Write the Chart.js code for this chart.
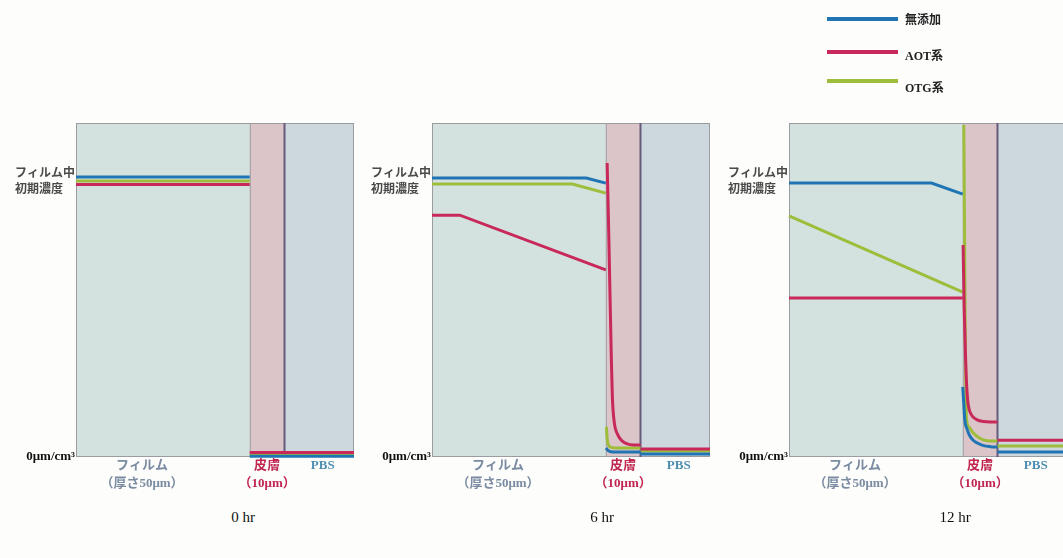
<!DOCTYPE html>
<html>
<head>
<meta charset="utf-8">
<script src="https://cdn.jsdelivr.net/npm/chart.js@4.4.1/dist/chart.umd.min.js"></script>
<style>
  html, body { margin: 0; padding: 0; background: #fdfdfb; width: 1063px; height: 558px; overflow: hidden; position: relative; }
  canvas { position: absolute; top: 0; }
  .hr { position: absolute; top: 509px; font: 15px "Liberation Serif", serif; color: #111; transform: translateX(-50%); white-space: nowrap; }
  .lg-line { position: absolute; left: 827px; width: 71px; height: 4px; }
  .lg-text { position: absolute; left: 905px; font: bold 12px "Liberation Serif", "Noto Sans CJK JP", serif; color: #222; }
</style>
</head>
<body>
<canvas id="hr0" width="358" height="500" style="left:0px"></canvas>
<canvas id="hr6" width="358" height="500" style="left:356px"></canvas>
<canvas id="hr12" width="358" height="500" style="left:713px"></canvas>

<div class="hr" style="left:243px">0 hr</div>
<div class="hr" style="left:602px">6 hr</div>
<div class="hr" style="left:955px">12 hr</div>

<div class="lg-line" style="top:17px;background:#1f74b4"></div>
<div class="lg-text" style="top:10px">無添加</div>
<div class="lg-line" style="top:50px;background:#c8285a"></div>
<div class="lg-text" style="top:46px">AOT系</div>
<div class="lg-line" style="top:79px;background:#9dbd3b"></div>
<div class="lg-text" style="top:78px">OTG系</div>

<script>
// x: 0-50 film, 50-60 skin, 60-80 PBS ; y: relative concentration
const seriesNames = ["無添加", "AOT系", "OTG系"];
const seriesColors = ["#1f74b4", "#c8285a", "#9dbd3b"];

// 0 hr
const blue0 = [[0, 83.8], [50, 83.8], [50, null], [50, 0.2], [80, 0.2]];
const red0 = [[0, 81.6], [50, 81.6], [50, null], [50, 1.35], [80, 1.35]];
const green0 = [[0, 82.6], [50, 82.6], [50, null], [50, 0.75], [80, 0.75]];

// 6 hr
const blue6 = [[0, 83.5], [44.4, 83.5], [50, 82], [50, null],
  [50.1, 2.7], [50.6, 2.0], [51.5, 1.6], [53, 1.5], [60, 1.5], [60, null], [60, 0.9], [80, 0.9]];
const red6 = [[0, 72.4], [8, 72.4], [50, 56], [50, null],
  [50.4, 88], [50.8, 70], [51.2, 50], [51.6, 30], [51.9, 18], [52.5, 10], [53.3, 7], [54.5, 5],
  [56, 4], [58, 3.6], [60, 3.6], [60, null], [60, 2.4], [80, 2.4]];
const green6 = [[0, 81.7], [40.4, 81.7], [50, 79], [50, null],
  [50.2, 9], [50.4, 5.5], [50.8, 3.6], [51.6, 2.9], [53, 2.7], [60, 2.7], [60, null], [60, 1.8], [80, 1.8]];

// 12 hr
const blue12 = [[0, 82], [41, 82], [50, 78.7], [50, null],
  [50, 21], [50.3, 16], [50.6, 11], [51.2, 8.5], [51.9, 6.6], [53, 5], [54.2, 4.2], [56, 3.4],
  [58, 3.1], [60, 3.0], [60, null], [60, 1.5], [80, 1.5]];
const red12 = [[0, 47.6], [50, 47.6], [50, null],
  [50.1, 63.5], [50.4, 45], [50.8, 30], [51.2, 20], [51.6, 15.5], [52.5, 12.6], [54, 11.2],
  [56, 10.6], [58, 10.5], [60, 10.5], [60, null], [60, 5.0], [80, 5.0]];
const green12 = [[0, 72.2], [50, 49.4], [50, null],
  [50.3, 99.4], [50.5, 70], [50.7, 40], [50.9, 20], [51.1, 11], [51.8, 9], [52.8, 7.5], [54.8, 5.7],
  [57, 4.9], [60, 4.8], [60, null], [60, 3.3], [80, 3.3]];

const regionEdges = [0, 50, 60, 80];
const regionColors = ["#d4e2df", "#dbc5c8", "#cdd8de"];

const xTickPos = [19, 55, 71];
const xTickLabels = [["フィルム", "（厚さ50μm）"], ["皮膚", "（10μm）"], "PBS"];
const xTickColors = ["#7a8ba2", "#c0264f", "#4f8db0"];

const yTickPos = [0, 82.8];
const yTickLabels = ["0μm/cm³", ["フィルム中", "初期濃度　"]];
const yTickColors = ["#111", "#4a4a4a"];

const serifFont = '"Liberation Serif", "Noto Sans CJK JP", serif';

// coloured bands for film / skin / PBS
const regionsPlugin = {
  id: "regions",
  beforeDatasetsDraw(chart) {
    const { ctx, chartArea, scales } = chart;
    const x = scales.x;
    ctx.save();
    for (let i = 0; i < regionColors.length; i++) {
      const x0 = x.getPixelForValue(regionEdges[i]);
      const x1 = x.getPixelForValue(regionEdges[i + 1]);
      ctx.fillStyle = regionColors[i];
      ctx.fillRect(x0, chartArea.top, x1 - x0, chartArea.bottom - chartArea.top);
    }
    ctx.strokeStyle = "#9a9ca0";
    ctx.lineWidth = 1;
    ctx.strokeRect(chartArea.left + 0.5, chartArea.top + 0.5,
      chartArea.right - chartArea.left - 1, chartArea.bottom - chartArea.top - 1);
    const xs = x.getPixelForValue(50);
    ctx.beginPath();
    ctx.moveTo(xs + 0.5, chartArea.top);
    ctx.lineTo(xs + 0.5, chartArea.bottom);
    ctx.stroke();
    const xp = x.getPixelForValue(60);
    ctx.strokeStyle = "#675a7c";
    ctx.lineWidth = 2;
    ctx.beginPath();
    ctx.moveTo(xp, chartArea.top);
    ctx.lineTo(xp, chartArea.bottom);
    ctx.stroke();
    ctx.restore();
  },
};

function toPoints(arr) {
  return arr.map((p) => ({ x: p[0], y: p[1] }));
}

// film part is straight, skin + PBS part is a smooth curve
function seriesDatasets(arr, i) {
  const cut = arr.findIndex((p) => p[1] === null);
  const base = {
    label: seriesNames[i],
    borderColor: seriesColors[i],
    backgroundColor: seriesColors[i],
    borderWidth: 3,
    pointRadius: 0,
    spanGaps: false,
    clip: false,
  };
  return [
    { ...base, data: toPoints(arr.slice(0, cut)), tension: 0 },
    { ...base, data: toPoints(arr.slice(cut + 1)), cubicInterpolationMode: "monotone" },
  ];
}

function makePanel(id, blue, red, green) {
  new Chart(document.getElementById(id), {
    type: "line",
    data: {
      datasets: [blue, red, green].flatMap((d, i) => seriesDatasets(d, i)),
    },
    options: {
      responsive: false,
      animation: false,
      layout: { padding: { top: 123, right: 4, left: 0, bottom: 0 } },
      plugins: {
        legend: { display: false },
        tooltip: { enabled: false },
      },
      scales: {
        x: {
          type: "linear",
          min: 0,
          max: 80,
          grid: { display: false, drawTicks: false },
          border: { display: false },
          afterBuildTicks: (s) => {
            s.ticks = xTickPos.map((v) => ({ value: v }));
          },
          afterFit: (s) => {
            s.height = 43;
          },
          ticks: {
            autoSkip: false,
            maxRotation: 0,
            padding: 0,
            callback: (v, i) => xTickLabels[i],
            color: (c) => xTickColors[c.index],
            font: { family: serifFont, size: 13, weight: "bold", lineHeight: 1.35 },
          },
        },
        y: {
          min: 0,
          max: 100,
          grid: { display: false, drawTicks: false },
          border: { display: false },
          afterBuildTicks: (s) => {
            s.ticks = yTickPos.map((v) => ({ value: v }));
          },
          afterFit: (s) => {
            s.width = 76;
          },
          ticks: {
            autoSkip: false,
            padding: 1,
            callback: (v, i) => yTickLabels[i],
            color: (c) => yTickColors[c.index],
            font: (c) =>
              c.index === 0
                ? { family: serifFont, size: 13, weight: "bold" }
                : { family: '"Noto Sans CJK JP", sans-serif', size: 12, weight: "bold", lineHeight: 1.4 },
          },
        },
      },
    },
    plugins: [regionsPlugin],
  });
}

makePanel("hr0", blue0, red0, green0);
makePanel("hr6", blue6, red6, green6);
makePanel("hr12", blue12, red12, green12);
</script>
</body>
</html>
